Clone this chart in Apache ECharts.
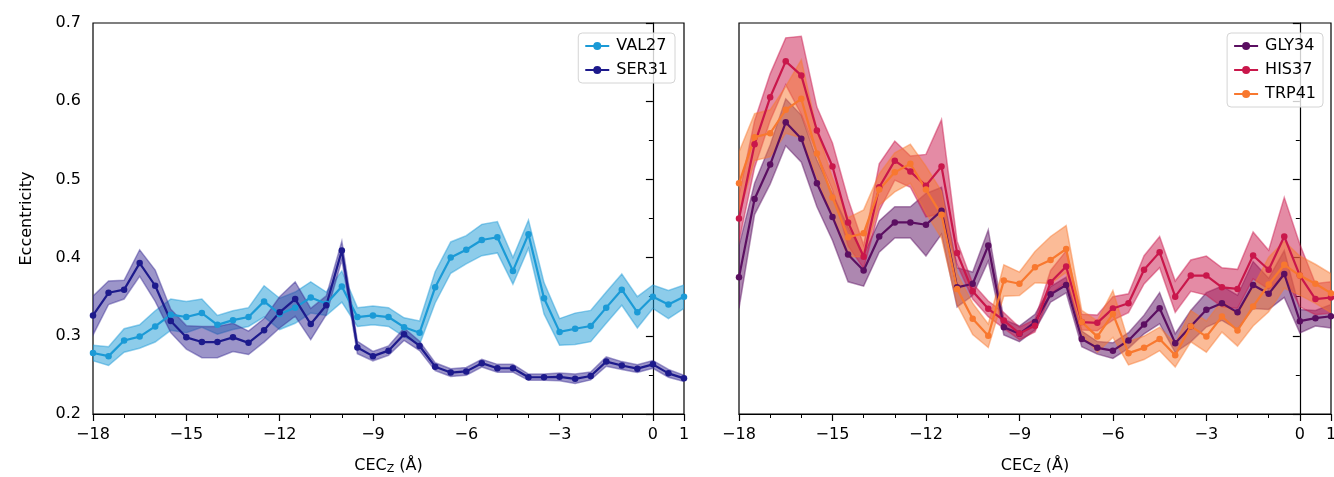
<!DOCTYPE html>
<html>
<head>
<meta charset="utf-8">
<script src="https://cdn.jsdelivr.net/npm/echarts@6/dist/echarts.min.js"></script>
<style>
html, body { margin: 0; padding: 0; background: #fff; }
#chart { width: 1334px; height: 477px; }
</style>
</head>
<body>
<div id="chart"></div>
<script>
// CEC_Z positions (Å), one sample every 0.5
const cec = [-18, -17.5, -17, -16.5, -16, -15.5, -15, -14.5, -14, -13.5, -13, -12.5, -12, -11.5, -11, -10.5, -10, -9.5, -9, -8.5,
  -8, -7.5, -7, -6.5, -6, -5.5, -5, -4.5, -4, -3.5, -3, -2.5, -2, -1.5, -1, -0.5, 0, 0.5, 1]

const xTicks = [-18, -15, -12, -9, -6, -3, 0, 1]

// left panel
const val27 = [0.278, 0.274, 0.294, 0.299, 0.312, 0.327, 0.324, 0.329, 0.314, 0.320, 0.324, 0.344, 0.328, 0.336, 0.349, 0.341, 0.363, 0.324, 0.326, 0.324,
  0.311, 0.304, 0.362, 0.400, 0.410, 0.4225, 0.426, 0.383, 0.430, 0.348, 0.305, 0.309, 0.3125, 0.336, 0.359, 0.330, 0.350, 0.340, 0.350]
const val27Err = [0.010, 0.012, 0.015, 0.015, 0.020, 0.020, 0.020, 0.018, 0.012, 0.012, 0.012, 0.020, 0.020, 0.020, 0.020, 0.015, 0.020, 0.012, 0.012, 0.012,
  0.012, 0.015, 0.020, 0.020, 0.018, 0.020, 0.020, 0.017, 0.018, 0.020, 0.017, 0.020, 0.020, 0.020, 0.020, 0.020, 0.015, 0.018, 0.015]

const ser31 = [0.326, 0.355, 0.359, 0.393, 0.364, 0.319, 0.298, 0.292, 0.292, 0.298, 0.291, 0.307, 0.330, 0.347, 0.315, 0.339, 0.409, 0.285, 0.274, 0.281,
  0.302, 0.287, 0.2605, 0.253, 0.2545, 0.265, 0.2585, 0.2585, 0.247, 0.247, 0.2475, 0.245, 0.2486, 0.267, 0.262, 0.258, 0.2635, 0.252, 0.2456]
const ser31Err = [0.025, 0.015, 0.012, 0.017, 0.020, 0.015, 0.015, 0.020, 0.020, 0.018, 0.015, 0.015, 0.020, 0.022, 0.020, 0.012, 0.012, 0.008, 0.006, 0.006,
  0.008, 0.006, 0.005, 0.005, 0.005, 0.005, 0.005, 0.005, 0.004, 0.004, 0.005, 0.006, 0.005, 0.006, 0.005, 0.005, 0.005, 0.005, 0.004]

// right panel
const gly34 = [0.375, 0.475, 0.519, 0.573, 0.552, 0.495, 0.452, 0.404, 0.3835, 0.427, 0.445, 0.445, 0.442, 0.460, 0.362, 0.3665, 0.4155, 0.311, 0.3025, 0.3175,
  0.353, 0.365, 0.296, 0.2846, 0.281, 0.294, 0.3144, 0.3353, 0.2906, 0.3123, 0.3332, 0.3417, 0.330, 0.365, 0.3537, 0.379, 0.3187, 0.3225, 0.325]
const gly34Err = [0.040, 0.020, 0.025, 0.030, 0.030, 0.030, 0.030, 0.035, 0.020, 0.020, 0.020, 0.020, 0.040, 0.030, 0.025, 0.015, 0.020, 0.010, 0.010, 0.010,
  0.010, 0.010, 0.010, 0.008, 0.010, 0.010, 0.012, 0.020, 0.012, 0.020, 0.022, 0.022, 0.022, 0.030, 0.020, 0.030, 0.015, 0.010, 0.015]

const his37 = [0.450, 0.545, 0.605, 0.651, 0.633, 0.5625, 0.5165, 0.445, 0.401, 0.490, 0.524, 0.510, 0.492, 0.5165, 0.406, 0.357, 0.3345, 0.3196, 0.303, 0.313,
  0.3686, 0.3886, 0.3175, 0.3166, 0.335, 0.3417, 0.3844, 0.407, 0.350, 0.377, 0.377, 0.362, 0.360, 0.4027, 0.3844, 0.427, 0.377, 0.347, 0.349]
const his37Err = [0.030, 0.030, 0.030, 0.030, 0.050, 0.030, 0.030, 0.030, 0.015, 0.030, 0.025, 0.020, 0.040, 0.060, 0.015, 0.010, 0.010, 0.010, 0.008, 0.008,
  0.015, 0.020, 0.010, 0.010, 0.015, 0.012, 0.018, 0.020, 0.020, 0.020, 0.025, 0.025, 0.025, 0.030, 0.025, 0.050, 0.040, 0.020, 0.020]

const trp41 = [0.495, 0.554, 0.559, 0.589, 0.603, 0.533, 0.477, 0.426, 0.431, 0.487, 0.509, 0.520, 0.487, 0.4547, 0.360, 0.3217, 0.300, 0.3707, 0.3665, 0.3877,
  0.397, 0.411, 0.3175, 0.299, 0.328, 0.2778, 0.2846, 0.296, 0.275, 0.3123, 0.299, 0.3247, 0.3068, 0.3375, 0.3656, 0.3908, 0.377, 0.3665, 0.3545]
const trp41Err = [0.040, 0.030, 0.030, 0.030, 0.050, 0.030, 0.025, 0.025, 0.030, 0.020, 0.025, 0.025, 0.030, 0.030, 0.020, 0.020, 0.015, 0.020, 0.015, 0.020,
  0.030, 0.030, 0.015, 0.020, 0.030, 0.015, 0.015, 0.015, 0.015, 0.020, 0.020, 0.020, 0.020, 0.025, 0.035, 0.030, 0.025, 0.025, 0.025]

const font = 'DejaVu Sans'
const chart = echarts.init(document.getElementById('chart'))

function pairs(ys) {
  return cec.map((x, i) => [x, ys[i]])
}

// fill_between style band, drawn as one polygon through the axis scales
function band(key, mean, err, color, panel) {
  const rows = cec.map((x, i) => [x, mean[i] - err[i], mean[i] + err[i]])
  return {
    name: key + '-band', type: 'custom', xAxisIndex: panel * 2 + 1, yAxisIndex: panel,
    data: rows, silent: true, animation: false, clip: true,
    encode: { x: 0, y: [1, 2] },
    renderItem(params, api) {
      if (params.dataIndex !== 0) return null
      const upper = rows.map((r) => api.coord([r[0], r[2]]))
      const lower = rows.map((r) => api.coord([r[0], r[1]])).reverse()
      return {
        type: 'polygon',
        shape: { points: upper.concat(lower) },
        style: { fill: color, opacity: 0.5, stroke: color, lineWidth: 1.5, strokeOpacity: 0.9 },
      }
    },
  }
}

function meanLine(name, mean, color, panel) {
  return {
    name, type: 'line', xAxisIndex: panel * 2 + 1, yAxisIndex: panel,
    data: pairs(mean), symbol: 'circle', symbolSize: 6.5, animation: false,
    lineStyle: { color, width: 2.2 }, itemStyle: { color },
  }
}

function xAxes(gridIndex) {
  const base = { type: 'value', gridIndex, min: -18, max: 1, position: 'bottom', splitLine: { show: false } }
  return [
    {
      ...base, interval: 1,
      axisLine: { show: true, lineStyle: { color: '#000', width: 1.2 } },
      axisTick: { show: true, length: 4, lineStyle: { color: '#000', width: 1 } },
      axisLabel: { show: false },
    },
    {
      ...base, interval: 3,
      axisLine: { show: false },
      axisTick: { show: true, length: 7, lineStyle: { color: '#000', width: 1.2 } },
      axisLabel: {
        color: '#000', fontFamily: font, fontSize: 16, margin: 13,
        formatter: (v) => (xTicks.includes(v) ? String(v).replace('-', '\u2212') : ''),
      },
      name: '{a|CEC}{s|Z}{a| (Å)}', nameLocation: 'middle', nameGap: 42,
      nameTextStyle: {
        rich: {
          a: { fontFamily: font, fontSize: 16, color: '#000' },
          s: { fontFamily: font, fontSize: 11, color: '#000', verticalAlign: 'bottom', padding: [8, 0, 0, 0] },
        },
      },
    },
  ]
}

function yAxis(gridIndex, showLabels) {
  return {
    type: 'value', gridIndex, min: 0.2, max: 0.7, interval: 0.1,
    splitLine: { show: false },
    axisLine: { show: true, lineStyle: { color: '#000', width: 1.2 } },
    axisTick: { show: true, length: 7, lineStyle: { color: '#000', width: 1.2 } },
    minorTick: { show: true, splitNumber: 2, length: 4, lineStyle: { color: '#000', width: 1 } },
    axisLabel: {
      show: showLabels, color: '#000', fontFamily: font, fontSize: 16, margin: 12,
      formatter: (v) => v.toFixed(1),
    },
    name: showLabels ? 'Eccentricity' : '', nameLocation: 'middle', nameGap: 58,
    nameTextStyle: { fontFamily: font, fontSize: 16, color: '#000' },
  }
}

function legend(names, right) {
  return {
    data: names, orient: 'vertical', right, top: 33,
    itemWidth: 24, itemHeight: 10, itemGap: 8,
    padding: [5, 7, 5, 6],
    backgroundColor: 'rgba(255,255,255,0.8)', borderColor: '#d4d4d4', borderWidth: 1, borderRadius: 4,
    textStyle: { fontFamily: font, fontSize: 16, color: '#000', padding: [0, 0, 0, 2] },
  }
}

const cVal = '#1b9ad6'
const cSer = '#1d1a8c'
const cSerBand = '#3a2c94'
const cGly = '#5b0f61'
const cHis = '#c9174b'
const cTrp = '#f8782f'

const gridBase = { top: 23, height: 391, show: true, borderColor: '#000', borderWidth: 1.2, backgroundColor: 'transparent', outerBoundsMode: 'none', containLabel: false }

const option = {
  backgroundColor: '#fff',
  grid: [
    { ...gridBase, left: 93, width: 591 },
    { ...gridBase, left: 739, width: 592 },
  ],
  legend: [legend(['VAL27', 'SER31'], 659), legend(['GLY34', 'HIS37', 'TRP41'], 11)],
  xAxis: [...xAxes(0), ...xAxes(1)],
  yAxis: [yAxis(0, true), yAxis(1, false)],
  series: [
    band('VAL27', val27, val27Err, cVal, 0),
    meanLine('VAL27', val27, cVal, 0),
    band('SER31', ser31, ser31Err, cSerBand, 0),
    meanLine('SER31', ser31, cSer, 0),
    band('GLY34', gly34, gly34Err, cGly, 1),
    meanLine('GLY34', gly34, cGly, 1),
    band('HIS37', his37, his37Err, cHis, 1),
    meanLine('HIS37', his37, cHis, 1),
    band('TRP41', trp41, trp41Err, cTrp, 1),
    meanLine('TRP41', trp41, cTrp, 1),
  ],
}

chart.setOption(option)
</script>
</body>
</html>
